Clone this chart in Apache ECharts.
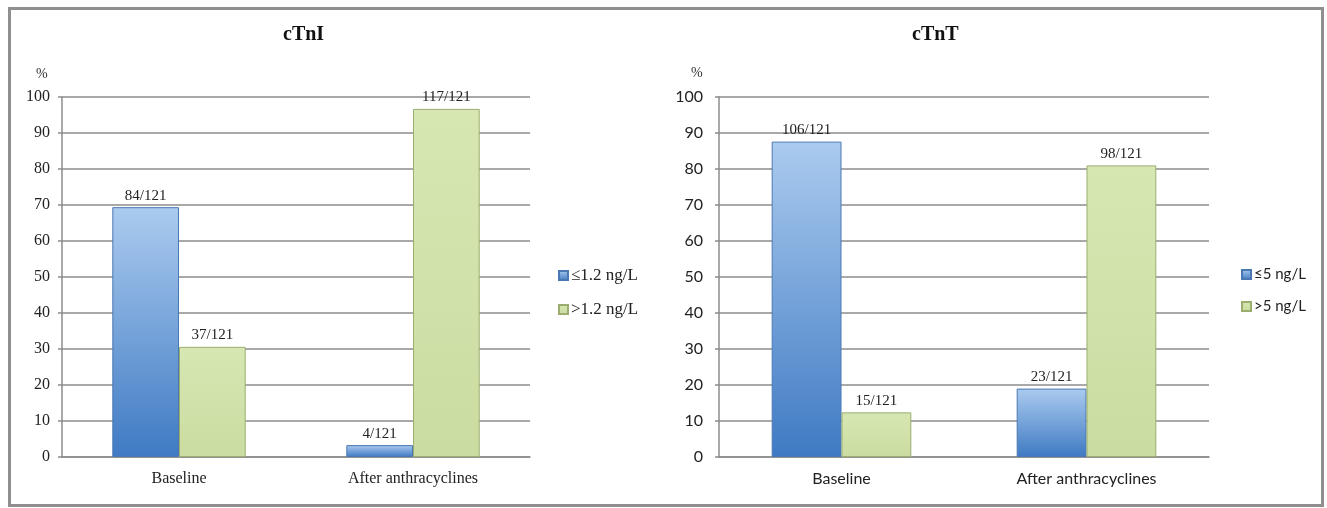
<!DOCTYPE html>
<html>
<head>
<meta charset="utf-8">
<script src="https://cdn.jsdelivr.net/npm/echarts@6/dist/echarts.min.js"></script>
<style>
html,body{margin:0;padding:0;background:#fff;}
#chart{width:1327px;height:508px;}
</style>
</head>
<body>
<div id="chart"></div>
<script>
// ---- data ----
const categories = ['Baseline', 'After anthracyclines'];
const yTicks = [0, 10, 20, 30, 40, 50, 60, 70, 80, 90, 100];

// cTnI panel (percent of patients)
const cTnI_low = [69.4, 3.3];          // <=1.2 ng/L
const cTnI_high = [30.6, 96.7];        // >1.2 ng/L
const cTnI_lowLabels = ['84/121', '4/121'];
const cTnI_highLabels = ['37/121', '117/121'];

// cTnT panel (percent of patients)
const cTnT_low = [87.6, 19.0];         // <=5 ng/L
const cTnT_high = [12.4, 81.0];        // >5 ng/L
const cTnT_lowLabels = ['106/121', '23/121'];
const cTnT_highLabels = ['15/121', '98/121'];

const names = {
  iLow: '\u22641.2 ng/L', iHigh: '>1.2 ng/L',
  tLow: '\u22645 ng/L', tHigh: '>5 ng/L'
};

// ---- styles ----
const SERIF = '"Liberation Serif", "Times New Roman", serif';
const SANS = 'Lato, "Liberation Sans", sans-serif';
const GRID_C = '#8c8c8c';
const blueFill = new echarts.graphic.LinearGradient(0, 0, 0, 1, [
  {offset: 0, color: '#abcbef'}, {offset: 1, color: '#3f7ac3'}]);
const greenFill = new echarts.graphic.LinearGradient(0, 0, 0, 1, [
  {offset: 0, color: '#d7e7b3'}, {offset: 1, color: '#cadca1'}]);
const blueStyle = {color: blueFill, borderColor: '#4a78b3', borderWidth: 1};
const greenStyle = {color: greenFill, borderColor: '#9bae6f', borderWidth: 1};

function xAxisOf(grid, font) {
  return {
    type: 'category', gridIndex: grid, data: categories,
    axisLine: {show: true, lineStyle: {color: GRID_C, width: 1.5}},
    axisTick: {show: false},
    axisLabel: {fontFamily: font, fontSize: 16, color: '#222', margin: 14}
  };
}
function yAxisOf(grid, font, margin) {
  return {
    type: 'value', gridIndex: grid, min: 0, max: 100, interval: 10,
    axisLine: {show: true, lineStyle: {color: GRID_C, width: 1.5}},
    axisTick: {show: true, length: 4, lineStyle: {color: GRID_C, width: 1.5}},
    splitLine: {show: true, lineStyle: {color: GRID_C, width: 1.5}},
    axisLabel: {fontFamily: font, fontSize: 16, color: '#222', margin: margin,
      formatter: v => (yTicks.indexOf(v) >= 0 ? String(v) : '')}
  };
}
function barSeries(name, grid, data, labels, style, labelFont) {
  return {
    type: 'bar', name: name, xAxisIndex: grid, yAxisIndex: grid,
    data: data, itemStyle: style,
    barGap: '0%', barCategoryGap: '43%',
    label: {show: true, position: 'top', distance: 4,
      fontFamily: labelFont, fontSize: 15, color: '#222',
      formatter: p => labels[p.dataIndex]}
  };
}

const chart = echarts.init(document.getElementById('chart'), null, {renderer: 'canvas'});
chart.setOption({
  animation: false,
  backgroundColor: '#fff',
  title: [
    {text: 'cTnI', left: 278, top: 20,
      textStyle: {fontFamily: SERIF, fontWeight: 'bold', fontSize: 20, color: '#111'}},
    {text: 'cTnT', left: 907, top: 20,
      textStyle: {fontFamily: SERIF, fontWeight: 'bold', fontSize: 20, color: '#111'}}
  ],
  grid: [
    {left: 62, top: 97, width: 468, height: 360},
    {left: 719, top: 97, width: 490, height: 360}
  ],
  xAxis: [xAxisOf(0, SERIF), xAxisOf(1, SANS)],
  yAxis: [yAxisOf(0, SERIF, 12), yAxisOf(1, SANS, 16)],
  legend: [
    {data: [names.iLow, names.iHigh], orient: 'vertical', left: 553, top: 262,
      icon: 'rect', itemWidth: 9, itemHeight: 9, itemGap: 17,
      textStyle: {fontFamily: SERIF, fontSize: 17, color: '#222', padding: [0, 0, 0, -2]}},
    {data: [names.tLow, names.tHigh], orient: 'vertical', left: 1236, top: 262,
      icon: 'rect', itemWidth: 9, itemHeight: 9, itemGap: 17,
      textStyle: {fontFamily: SANS, fontSize: 15, color: '#222', padding: [0, 0, 0, -2]}}
  ],
  series: [
    barSeries(names.iLow, 0, cTnI_low, cTnI_lowLabels, blueStyle, SERIF),
    barSeries(names.iHigh, 0, cTnI_high, cTnI_highLabels, greenStyle, SERIF),
    barSeries(names.tLow, 1, cTnT_low, cTnT_lowLabels, blueStyle, SERIF),
    barSeries(names.tHigh, 1, cTnT_high, cTnT_highLabels, greenStyle, SERIF)
  ],
  graphic: [
    {type: 'rect', shape: {x: 9.5, y: 8.5, width: 1313, height: 497},
      style: {fill: 'none', stroke: '#8f8f8f', lineWidth: 3}, silent: true},
    {type: 'text', left: 36, top: 67,
      style: {text: '%', fontFamily: SERIF, fontSize: 14, fill: '#333'}},
    {type: 'text', left: 691, top: 66,
      style: {text: '%', fontFamily: SERIF, fontSize: 14, fill: '#333'}}
  ]
});
</script>
</body>
</html>
